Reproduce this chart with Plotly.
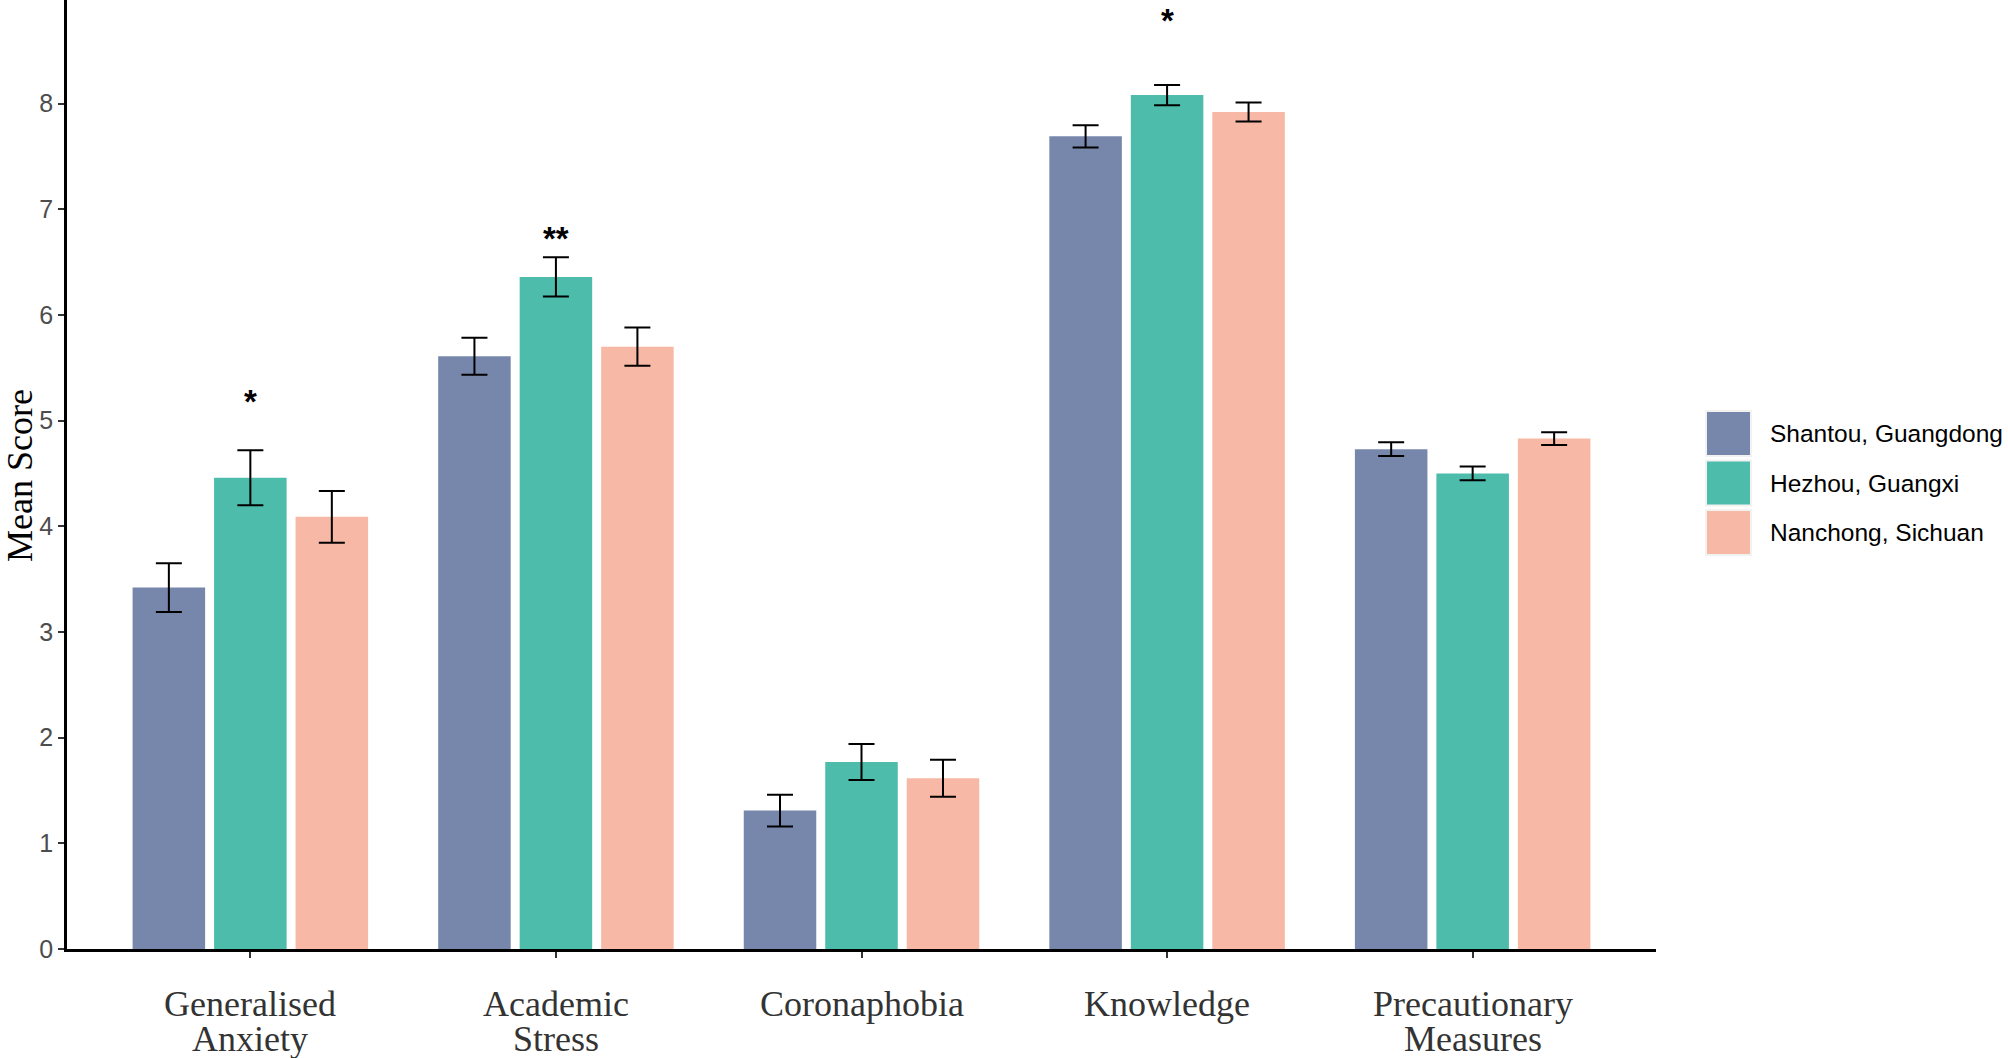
import plotly.graph_objects as go

# ---------------- data ----------------
categories = ["Generalised Anxiety", "Academic Stress", "Coronaphobia", "Knowledge", "Precautionary Measures"]
category_lines = [["Generalised", "Anxiety"], ["Academic", "Stress"], ["Coronaphobia"], ["Knowledge"], ["Precautionary", "Measures"]]
series_names = ["Shantou, Guangdong", "Hezhou, Guangxi", "Nanchong, Sichuan"]

shantou_mean = [3.42, 5.61, 1.31, 7.69, 4.73]
shantou_se = [0.23, 0.175, 0.15, 0.105, 0.065]
hezhou_mean = [4.46, 6.36, 1.77, 8.08, 4.50]
hezhou_se = [0.26, 0.185, 0.17, 0.095, 0.065]
nanchong_mean = [4.09, 5.70, 1.615, 7.92, 4.83]
nanchong_se = [0.245, 0.18, 0.175, 0.09, 0.06]

sig_labels = ["*", "**", "", "*", ""]
sig_y = [5.19, 6.73, None, 8.80, None]

y_ticks = [0, 1, 2, 3, 4, 5, 6, 7, 8]
y_title = "Mean Score"

colors = ["#7787AC", "#4DBCAB", "#F7B9A5"]

# ---------------- layout geometry ----------------
W, H = 2008, 1058
ML, MR, MT, MB = 67, 352, 0, 109
plot_w = W - ML - MR
plot_h = H - MT - MB


def px_x(p):
    return (p - ML) / plot_w


def px_y(p):
    return (H - MB - p) / plot_h


SERIF = "Liberation Serif, Times New Roman, serif"
SANS = "Liberation Sans, Arial, sans-serif"

fig = go.Figure()
xs = list(range(len(categories)))
for name, means, ses, col in zip(series_names,
                                 [shantou_mean, hezhou_mean, nanchong_mean],
                                 [shantou_se, hezhou_se, nanchong_se], colors):
    fig.add_trace(go.Bar(
        x=xs, y=means, name=name,
        marker=dict(color=col, line=dict(width=0)),
        error_y=dict(type="data", array=ses, visible=True, color="black", thickness=2, width=13),
        showlegend=False,
    ))

annotations = []
# significance stars (over middle bar of each group)
for i, (lab, yv) in enumerate(zip(sig_labels, sig_y)):
    if lab and yv is not None:
        annotations.append(dict(x=xs[i], y=yv, xref="x", yref="y", text="<b>" + lab + "</b>", showarrow=False,
                                font=dict(family=SANS, size=33, color="black"),
                                xanchor="center", yanchor="middle", yshift=-1, borderpad=0))

# x category labels (tight line spacing, as in the reference)
for i, lines in enumerate(category_lines):
    for j, line in enumerate(lines):
        annotations.append(dict(x=xs[i], y=0, xref="x", yref="paper", text=line, showarrow=False,
                                font=dict(family=SERIF, size=36, color="#333333"),
                                xanchor="center", yanchor="middle", yshift=-55 - 35 * j, borderpad=0))

# y axis title
annotations.append(dict(x=px_x(20), y=px_y(476), xref="paper", yref="paper", text=y_title,
                        textangle=-90, showarrow=False, xanchor="center", yanchor="middle",
                        borderpad=0, font=dict(family=SERIF, size=36, color="black")))

# custom legend
shapes = []
leg_x0, leg_x1 = 1706, 1751
leg_top, leg_pitch, leg_size = 411, 49.5, 45
for k, (name, col) in enumerate(zip(series_names, colors)):
    top = leg_top + k * leg_pitch
    shapes.append(dict(type="rect", xref="paper", yref="paper",
                       x0=px_x(leg_x0), x1=px_x(leg_x1), y0=px_y(top + leg_size), y1=px_y(top),
                       fillcolor=col, line=dict(color="#F2F2F2", width=2)))
    annotations.append(dict(x=px_x(1768), y=px_y(top + leg_size / 2), xref="paper", yref="paper",
                            text=name, showarrow=False, xanchor="left", yanchor="middle",
                            font=dict(family=SANS, size=24.5, color="black")))

fig.update_layout(
    width=W, height=H,
    margin=dict(l=ML, r=MR, t=MT, b=MB, autoexpand=False),
    paper_bgcolor="white", plot_bgcolor="white",
    barmode="group", bargap=0.2, bargroupgap=0.11,
    annotations=annotations, shapes=shapes,
    showlegend=False,
)
fig.update_xaxes(
    range=[-0.6, 4.6], tickvals=xs, ticktext=categories, showticklabels=False,
    showline=True, linecolor="black", linewidth=2.5,
    ticks="outside", ticklen=6, tickwidth=2, tickcolor="#333333",
    showgrid=False, zeroline=False,
)
fig.update_yaxes(
    range=[0, 8.98], tickvals=y_ticks,
    showline=True, linecolor="black", linewidth=2.5,
    ticks="outside", ticklen=6, tickwidth=2, tickcolor="#333333",
    tickfont=dict(family=SANS, size=25, color="#4D4D4D"),
    showgrid=False, zeroline=False,
)

fig.write_html("out.html", config={"displayModeBar": False},
               post_script="document.body.style.margin='0';document.body.style.overflow='hidden';")
